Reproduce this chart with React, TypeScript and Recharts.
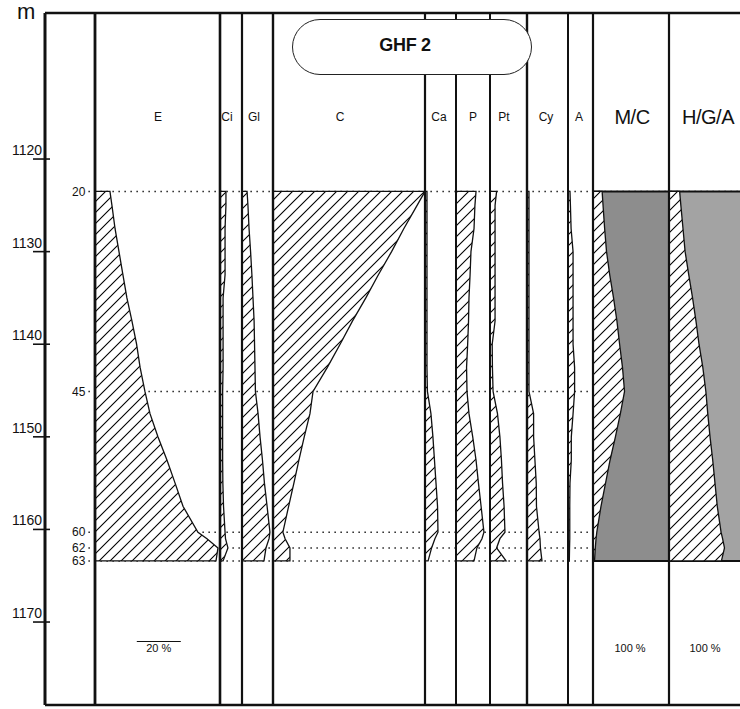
import React from "react";
import {
  ComposedChart,
  Area,
  XAxis,
  YAxis,
  ReferenceLine,
  ReferenceArea,
} from "recharts";

// sample levels (m below datum) and percentages per taxon column
const depths = [
  1123.5, 1125, 1127.5, 1130, 1132.5, 1135, 1137.5, 1140, 1142.5, 1145.1,
  1147.5, 1150, 1152.5, 1155, 1157.5, 1160.3, 1161, 1162, 1163.4,
];

const E = [6.8, 7.7, 9.1, 10.9, 12.7, 14.5, 16.8, 18.9, 20.5, 22.7, 25.0, 28.6, 32.7, 36.4, 40.0, 46.8, 50.9, 55.9, 55.0];
const Ci = [2.7, 2.7, 2.3, 2.3, 2.3, 1.4, 1.4, 1.4, 1.4, 1.2, 1.2, 1.2, 1.2, 1.3, 1.6, 2.3, 2.5, 3.6, 1.4];
const Gl = [2.3, 2.7, 3.2, 3.9, 4.5, 5.0, 5.5, 5.7, 5.9, 6.1, 7.3, 8.2, 9.3, 10.2, 11.4, 12.7, 12.3, 10.9, 10.0];
const C = [69.1, 65.5, 59.5, 53.9, 47.9, 42.2, 36.1, 30.5, 24.7, 18.2, 16.8, 14.2, 11.8, 9.5, 7.1, 4.5, 5.5, 7.7, 7.7];
const Ca = [0.9, 0.9, 0.9, 0.9, 0.9, 0.9, 0.9, 0.9, 0.9, 1.1, 2.7, 3.6, 4.3, 5.0, 5.7, 5.9, 4.5, 3.0, 1.4];
const P = [9.1, 8.6, 8.2, 6.8, 6.4, 5.9, 5.7, 5.3, 4.8, 5.0, 5.9, 7.6, 9.1, 10.2, 11.4, 12.7, 11.8, 9.5, 8.2];
const Pt = [3.0, 2.3, 2.3, 2.3, 2.3, 2.3, 2.3, 1.0, 1.1, 1.4, 3.4, 4.5, 5.2, 5.7, 6.4, 6.8, 4.5, 3.0, 7.3];
const Cy = [0.9, 0.9, 0.9, 0.9, 0.9, 0.9, 0.9, 0.9, 0.9, 0.9, 3.0, 3.0, 3.6, 4.2, 4.3, 5.5, 5.9, 6.1, 6.8];
const A = [0.9, 1.1, 1.4, 2.3, 2.3, 2.3, 2.3, 2.3, 3.0, 3.0, 2.3, 1.5, 1.5, 0.9, 0.8, 0.8, 0.8, 0.7, 0.6];
const MC = [12, 13.2, 15.3, 17.8, 22, 27, 31.5, 35, 38.8, 41.5, 36, 29.5, 22.5, 16.5, 10.5, 5, 4, 3, 2];
const HGA = [14, 15.6, 18.4, 21.2, 26, 31, 35.5, 39.5, 44.5, 48.5, 51, 54, 57.5, 60.5, 63.5, 68.5, 70.5, 73, 69];

const sampleNumbers = ["20", "45", "60", "62", "63"];
const sampleDepths = [1123.5, 1145.1, 1160.3, 1162, 1163.4];
const depthTicks = [1120, 1130, 1140, 1150, 1160, 1170];

const FONT = "'Liberation Sans', Arial, sans-serif";
const W = 740;
const H = 709;
const PLOT_LEFT = 45;
const Y_DOMAIN: [number, number] = [1104.23, 1178.96];

// column layout: left edge in px, px per unit, heading position
const columns = [
  { key: "E", values: E, left: 95, scale: 2.2, label: "E", labelX: 158, lineW: 2.8 },
  { key: "Ci", values: Ci, left: 220, scale: 2.2, label: "Ci", labelX: 227, lineW: 2.6 },
  { key: "Gl", values: Gl, left: 242, scale: 2.2, label: "Gl", labelX: 254, lineW: 2.2 },
  { key: "C", values: C, left: 273, scale: 2.2, label: "C", labelX: 340, lineW: 2.4 },
  { key: "Ca", values: Ca, left: 425, scale: 2.2, label: "Ca", labelX: 439, lineW: 2.2 },
  { key: "P", values: P, left: 456, scale: 2.2, label: "P", labelX: 473, lineW: 2 },
  { key: "Pt", values: Pt, left: 490, scale: 2.2, label: "Pt", labelX: 504, lineW: 2 },
  { key: "Cy", values: Cy, left: 527, scale: 2.2, label: "Cy", labelX: 546, lineW: 2.4 },
  { key: "A", values: A, left: 568, scale: 2.2, label: "A", labelX: 579, lineW: 2 },
  { key: "MC", values: MC, left: 593, scale: 0.76, label: "M/C", labelX: 632, lineW: 2.2, big: true, gray: "#8d8d8d" },
  { key: "HGA", values: HGA, left: 669, scale: 0.76, label: "H/G/A", labelX: 708, lineW: 2.2, big: true, gray: "#a3a3a3" },
];

const domainOf = (c: { left: number; scale: number }): [number, number] => [
  -(c.left - PLOT_LEFT) / c.scale,
  (W - c.left) / c.scale,
];

// rows closed with zero at the first and last level so each curve outlines a polygon
const zeroRow = (depth: number) => {
  const r: Record<string, number> = { depth };
  columns.forEach((c) => (r[c.key] = 0));
  return r;
};
const rows = [
  zeroRow(depths[0]),
  ...depths.map((d, i) => {
    const r: Record<string, number> = { depth: d };
    columns.forEach((c) => (r[c.key] = c.values[i]));
    return r;
  }),
  zeroRow(depths[depths.length - 1]),
];

function DepthTick(props: any) {
  const { y, payload } = props;
  return (
    <g>
      <line x1={33} x2={50} y1={y} y2={y} stroke="#111" strokeWidth={1.6} />
      <text x={42} y={y - 4} textAnchor="end" fontSize={14} fontFamily={FONT} fill="#111">
        {payload.value}
      </text>
    </g>
  );
}

export default function App() {
  const eDom = domainOf(columns[0]);
  return (
    <div style={{ position: "absolute", left: 0, top: 0, width: W, height: H, background: "#fff", fontFamily: FONT }}>
      <ComposedChart
        layout="vertical"
        width={W}
        height={H}
        data={rows}
        margin={{ top: 13, right: 0, bottom: 4, left: 0 }}
      >
        <defs>
          <pattern id="hatch" patternUnits="userSpaceOnUse" width="11" height="11">
            <rect width="11" height="11" fill="#fff" />
            <path d="M0,11 L11,0 M-3,3 L3,-3 M8,14 L14,8" stroke="#000" strokeWidth="1.1" />
          </pattern>
        </defs>
        {columns.map((c) => (
          <XAxis
            key={c.key}
            xAxisId={c.key}
            type="number"
            domain={domainOf(c)}
            allowDataOverflow
            hide
          />
        ))}
        <YAxis
          type="number"
          dataKey="depth"
          domain={Y_DOMAIN}
          allowDataOverflow
          ticks={depthTicks}
          interval={0}
          width={45}
          axisLine={{ stroke: "#111", strokeWidth: 3 }}
          tickLine={false}
          tick={<DepthTick />}
        />
        {sampleDepths.map((d, i) => (
          <ReferenceLine
            key={"s" + d}
            xAxisId="E"
            segment={[{ x: -3, y: d }, { x: eDom[1], y: d }]}
            stroke="#222"
            strokeWidth={1.5}
            strokeDasharray="1.5 4.5"
            ifOverflow="visible"
            zIndex={10}
            label={{ value: sampleNumbers[i], position: "left", offset: 3, fontSize: 12, fill: "#111", fontFamily: FONT }}
          />
        ))}
        {columns
          .filter((c) => c.gray)
          .map((c) => (
            <ReferenceArea
              key={"g" + c.key}
              xAxisId={c.key}
              x1={0}
              x2={100}
              y1={depths[0]}
              y2={depths[depths.length - 1]}
              fill={c.gray}
              fillOpacity={1}
              stroke="#111"
              strokeWidth={2}
              ifOverflow="hidden"
              zIndex={20}
            />
          ))}
        {columns.map((c) => (
          <Area
            key={"a" + c.key}
            xAxisId={c.key}
            dataKey={c.key}
            type="linear"
            fill="url(#hatch)"
            fillOpacity={1}
            stroke="#111"
            strokeWidth={1.3}
            dot={false}
            activeDot={false}
            isAnimationActive={false}
            zIndex={100}
          />
        ))}
        {columns.map((c) => (
          <ReferenceLine
            key={"l" + c.key}
            xAxisId={c.key}
            x={0}
            stroke="#111"
            strokeWidth={c.lineW}
            ifOverflow="visible"
            zIndex={600}
          />
        ))}
        <ReferenceLine xAxisId="E" y={Y_DOMAIN[0]} stroke="#111" strokeWidth={2.5} ifOverflow="visible" zIndex={600} />
        <ReferenceLine xAxisId="E" y={Y_DOMAIN[1]} stroke="#111" strokeWidth={2.5} ifOverflow="visible" zIndex={600} />
        <ReferenceLine
          xAxisId="E"
          segment={[{ x: 19, y: 1172.1 }, { x: 39, y: 1172.1 }]}
          stroke="#111"
          strokeWidth={1.2}
          ifOverflow="visible"
          zIndex={600}
          label={{ value: "20 %", position: "bottom", offset: 3, fontSize: 11, fill: "#111", fontFamily: FONT }}
        />
      </ComposedChart>

      <div style={{ position: "absolute", left: 17, top: 2, fontSize: 22, lineHeight: "20px", color: "#111" }}>m</div>

      {columns.map((c) => (
        <div
          key={"h" + c.key}
          style={{
            position: "absolute",
            left: c.labelX,
            top: 117,
            transform: "translate(-50%, -50%)",
            fontSize: c.big ? 20 : 12,
            color: "#111",
            whiteSpace: "nowrap",
            letterSpacing: c.big ? -0.5 : 0,
          }}
        >
          {c.label}
        </div>
      ))}

      <div style={{ position: "absolute", left: 630, top: 648, transform: "translate(-50%, -50%)", fontSize: 11, color: "#111", whiteSpace: "nowrap" }}>
        100 %
      </div>
      <div style={{ position: "absolute", left: 705, top: 648, transform: "translate(-50%, -50%)", fontSize: 11, color: "#111", whiteSpace: "nowrap" }}>
        100 %
      </div>

      <div
        style={{
          position: "absolute",
          left: 292,
          top: 19,
          width: 240,
          height: 56,
          boxSizing: "border-box",
          border: "1.6px solid #222",
          borderRadius: 28,
          background: "#fff",
          display: "flex",
          alignItems: "center",
          justifyContent: "center",
          paddingRight: 14,
          paddingBottom: 4,
          fontSize: 18,
          fontWeight: "bold",
          color: "#111",
          letterSpacing: -0.3,
        }}
      >
        GHF 2
      </div>
    </div>
  );
}
